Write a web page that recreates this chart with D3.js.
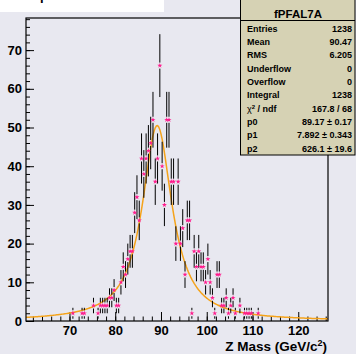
<!DOCTYPE html>
<html>
<head>
<meta charset="utf-8">
<script src="https://cdn.jsdelivr.net/npm/d3@7"></script>
<style>
  body { margin: 0; background: #e8e8f0; }
  svg { display: block; font-family: "Liberation Sans", Arial, Helvetica, sans-serif; font-weight: bold; }
</style>
</head>
<body>
<svg class="canvas" width="356" height="354"></svg>
<script>
// histogram fPFAL7A: 0.5 GeV bins, first filled bin centred at 70.75 GeV
const histRange = [60.5, 126.5];
const firstBinCenter = 70.75;
const binWidth = 0.5;
const counts = [
  2, 0, 0, 0, 2, 2, 0, 0, 0, 4,
  0, 2, 4, 4, 4, 4, 6, 6, 8, 4,
  4, 10, 14, 12, 16, 18, 18, 28, 32, 26,
  42, 38, 42, 44, 46, 52, 36, 42, 66, 40,
  30, 52, 52, 36, 36, 20, 36, 20, 24, 12,
  26, 26, 2, 18, 14, 18, 14, 14, 10, 16,
  10, 6, 2, 12, 12, 4, 4, 6, 2, 4,
  6, 2, 0, 4, 0, 2, 2, 2, 2, 0,
  0, 2
];

// Breit-Wigner fit: p0 = mass, p1 = width, p2 = normalisation
const fitParams = [89.17, 7.892, 626.1];

const xTickValues = [70, 80, 90, 100, 110, 120];
const yTickValues = [0, 10, 20, 30, 40, 50, 60, 70];

const statsTitle = "fPFAL7A";
const statsLabels = ["Entries", "Mean", "RMS", "Underflow", "Overflow", "Integral", "chi2", "p0", "p1", "p2"];
const statsValues = ["1238", "90.47", "6.205", "0", "0", "1238", "167.8 / 68", "89.17 \u00b1 0.17", "7.892 \u00b1 0.343", "626.1 \u00b1 19.6"];

var svg = d3.select(".canvas");
var width = 356;
var height = 354;
var frame = { left: 26, right: 328, top: 18, bottom: 321 };

svg.append("rect")
  .attr("width", width)
  .attr("height", height)
  .attr("fill", "#e8e8f0");

var x = d3.scaleLinear().domain(histRange).range([frame.left, frame.right]);
var y = d3.scaleLinear().domain([0, 78.3]).range([frame.bottom, frame.top]);

// title pave, cut off by the top of the canvas
svg.append("rect")
  .attr("x", 0).attr("y", 0)
  .attr("width", 164).attr("height", 12)
  .attr("fill", "white");
svg.append("text")
  .attr("x", 40).attr("y", 0)
  .attr("font-size", 13)
  .text("p");

// minor ticks
svg.append("g")
  .attr("transform", `translate(0,${frame.bottom})`)
  .call(d3.axisBottom(x).tickValues(d3.range(62, 127, 2)).tickSize(-4.5).tickFormat(""))
  .call(g => g.select(".domain").remove());

svg.append("g")
  .attr("transform", `translate(${frame.left},0)`)
  .call(d3.axisLeft(y).tickValues(d3.range(0, 78.3, 2)).tickSize(-4).tickFormat(""))
  .call(g => g.select(".domain").remove());

// major ticks + labels
svg.append("g")
  .attr("transform", `translate(0,${frame.bottom})`)
  .call(d3.axisBottom(x).tickValues(xTickValues).tickSize(-9).tickPadding(5))
  .call(g => g.select(".domain").remove())
  .call(g => g.selectAll("text").attr("font-size", 13).attr("font-family", null).attr("fill", "black"));

svg.append("g")
  .attr("transform", `translate(${frame.left},0)`)
  .call(d3.axisLeft(y).tickValues(yTickValues).tickSize(-8).tickPadding(4))
  .call(g => g.select(".domain").remove())
  .call(g => g.selectAll("text").attr("font-size", 13).attr("font-family", null).attr("fill", "black"));

svg.selectAll(".tick line").attr("stroke", "black");

// fit curve
var bw = function (m) {
  const [p0, p1, p2] = fitParams;
  return p2 * (p1 / (2 * Math.PI)) / ((m - p0) * (m - p0) + p1 * p1 / 4);
};
var curveX = d3.range(histRange[0], histRange[1] + 0.01, 0.25);

svg.append("path")
  .datum(curveX)
  .attr("fill", "none")
  .attr("stroke", "#f5a31a")
  .attr("stroke-width", 1.5)
  .attr("d", d3.line().x(d => x(d)).y(d => y(bw(d))));

// data points with sqrt(N) error bars
var bins = counts
  .map((c, i) => ({ mass: firstBinCenter + i * binWidth, count: c }))
  .filter(d => d.count > 0);

var gap = 3;
var errs = svg.append("g").attr("stroke", "black").attr("stroke-width", 1);

errs.selectAll("line.up")
  .data(bins)
  .enter()
  .append("line")
  .attr("x1", d => x(d.mass)).attr("x2", d => x(d.mass))
  .attr("y1", d => y(d.count + Math.sqrt(d.count)))
  .attr("y2", d => y(d.count) - gap);

errs.selectAll("line.down")
  .data(bins)
  .enter()
  .append("line")
  .attr("x1", d => x(d.mass)).attr("x2", d => x(d.mass))
  .attr("y1", d => y(d.count) + gap)
  .attr("y2", d => y(d.count - Math.sqrt(d.count)));

svg.append("g")
  .selectAll("path")
  .data(bins)
  .enter()
  .append("path")
  .attr("transform", d => `translate(${x(d.mass)},${y(d.count)})`)
  .attr("d", d3.symbol().type(d3.symbolStar).size(8))
  .attr("fill", "#ff1a8c");

// frame
svg.append("rect")
  .attr("x", frame.left).attr("y", frame.top)
  .attr("width", frame.right - frame.left)
  .attr("height", frame.bottom - frame.top)
  .attr("fill", "none")
  .attr("stroke", "black")
  .attr("stroke-width", 1.2);

// x title
var xTitle = svg.append("text")
  .attr("x", 327).attr("y", 350.5)
  .attr("text-anchor", "end")
  .attr("font-size", 13.5);
xTitle.append("tspan").text("Z Mass (GeV/c");
xTitle.append("tspan").attr("font-size", 9).attr("dy", -5).text("2");
xTitle.append("tspan").attr("dy", 5).text(")");

// stats box
var stats = svg.append("g");
stats.append("rect")
  .attr("x", 240.5).attr("y", -0.5)
  .attr("width", 114.5).attr("height", 155.5)
  .attr("fill", "#d6d2b4")
  .attr("stroke", "black");
stats.append("line")
  .attr("x1", 240.5).attr("x2", 355)
  .attr("y1", 20.5).attr("y2", 20.5)
  .attr("stroke", "black");
stats.append("text")
  .attr("x", 298).attr("y", 18)
  .attr("text-anchor", "middle")
  .attr("font-size", 11.5)
  .text(statsTitle);

statsLabels.forEach((label, i) => {
  const yy = 31.6 + i * 13.33;
  const t = stats.append("text")
    .attr("x", 247).attr("y", yy)
    .attr("font-size", 9);
  if (label === "chi2") {
    t.append("tspan").attr("font-weight", "normal").text("\u03c7");
    t.append("tspan").attr("font-size", 6).attr("dy", -3).text("2");
    t.append("tspan").attr("dy", 3).text(" / ndf");
  } else {
    t.text(label);
  }
  stats.append("text")
    .attr("x", 352).attr("y", yy)
    .attr("text-anchor", "end")
    .attr("font-size", 9)
    .text(statsValues[i]);
});
</script>
</body>
</html>
